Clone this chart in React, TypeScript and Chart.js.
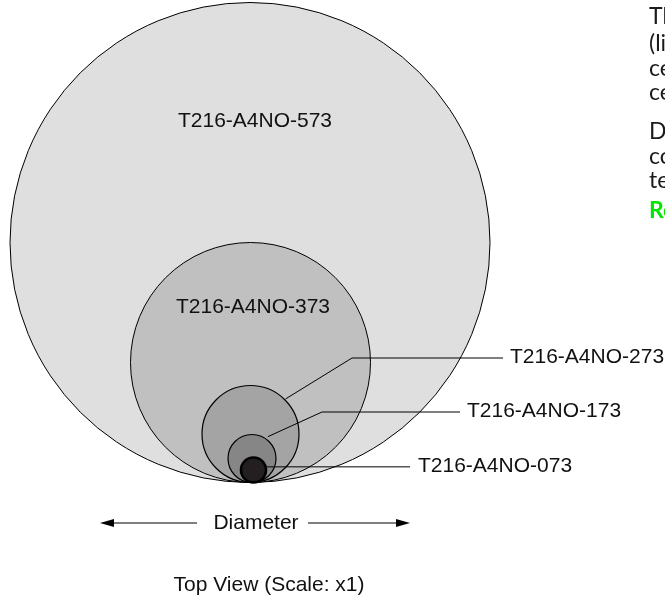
import React, { useEffect, useRef } from "react";
import { Chart, registerables } from "chart.js";

Chart.register(...registerables);

// ---- data ----
const models = ["T216-A4NO-573", "T216-A4NO-373", "T216-A4NO-273", "T216-A4NO-173", "T216-A4NO-073"];
const diameters = [480, 240, 97, 48, 25]; // drawing units (scale x1)
const fills = ["#dfdfdf", "#c0c0c0", "#a4a4a4", "#868686", "#231f20"];
const borderWidths = [1, 1, 1.2, 1.2, 2.6];

const paragraph1 = ["The T216-A4NO range", "(linear scale) keeps each", "cell outline true to size,", "centered on one contact point."];
const paragraph2 = ["Diameter values are", "compared directly in this", "technical top view."];
const linkText = "Request a datasheet";

// ---- layout (pixels in chart units) ----
const W = 665;
const H = 600;
const TANGENT_Y = 482.5;
const centerX = [250, 250.5, 250.5, 252, 253.5];
const insideLabels = [
  { i: 0, x: 255, y: 121 },
  { i: 1, x: 253, y: 307 },
];
const leaderLabels = [
  { i: 2, angle: 45, extra: 1, elbow: [352, 358], end: 503, textX: 510 },
  { i: 3, angle: 54, extra: 3, elbow: [322, 412], end: 460, textX: 467 },
  { i: 4, angle: 13, extra: 1.5, elbow: null, end: 410, textX: 418 },
];
const LABEL_FONT = '21px "Liberation Sans", Arial, Helvetica, sans-serif';
const SIDE_FONT = '23px "Lato", "Open Sans", sans-serif';

const annotationPlugin = {
  id: "annotations",
  afterDatasetsDraw(chart: any) {
    const { ctx } = chart;
    const xs = chart.scales.x;
    const ys = chart.scales.y;
    const px = (v: number) => xs.getPixelForValue(v);
    const py = (v: number) => ys.getPixelForValue(v);
    const unit = Math.abs(px(1) - px(0));
    ctx.save();
    ctx.fillStyle = "#111";
    ctx.font = LABEL_FONT;
    ctx.textBaseline = "middle";
    ctx.textAlign = "center";
    insideLabels.forEach((l) => ctx.fillText(models[l.i], px(l.x), py(l.y)));

    ctx.strokeStyle = "#000";
    ctx.lineWidth = 1;
    ctx.textAlign = "left";
    leaderLabels.forEach((l) => {
      const r = (diameters[l.i] / 2) * unit + l.extra;
      const cx = px(centerX[l.i]);
      const cy = py(TANGENT_Y - diameters[l.i] / 2);
      const a = (l.angle * Math.PI) / 180;
      const sx = cx + r * Math.cos(a);
      const sy = cy - r * Math.sin(a);
      ctx.beginPath();
      ctx.moveTo(sx, sy);
      let ly = sy;
      if (l.elbow) {
        ctx.lineTo(px(l.elbow[0]), py(l.elbow[1]));
        ly = py(l.elbow[1]);
      }
      ctx.lineTo(px(l.end), ly);
      ctx.stroke();
      ctx.fillText(models[l.i], px(l.textX), ly - 1);
    });

    // Diameter arrow
    const ay = py(523);
    const drawArrow = (x1: number, x2: number) => {
      const dir = Math.sign(x2 - x1);
      ctx.beginPath();
      ctx.moveTo(px(x1), ay);
      ctx.lineTo(px(x2) - dir * 10, ay);
      ctx.stroke();
      ctx.beginPath();
      ctx.moveTo(px(x2), ay);
      ctx.lineTo(px(x2) - dir * 14, ay - 4);
      ctx.lineTo(px(x2) - dir * 14, ay + 4);
      ctx.closePath();
      ctx.fillStyle = "#000";
      ctx.fill();
    };
    drawArrow(197, 100);
    drawArrow(308, 410);
    ctx.fillStyle = "#111";
    ctx.textAlign = "center";
    ctx.fillText("Diameter", px(256), ay);
    ctx.fillText("Top View (Scale: x1)", px(269), py(585));

    // side text
    ctx.textAlign = "left";
    ctx.textBaseline = "alphabetic";
    ctx.fillStyle = "#1a1a1a";
    ctx.font = SIDE_FONT;
    const base1 = [24, 51, 76, 100];
    paragraph1.forEach((t, k) => ctx.fillText(t, px(649), py(base1[k])));
    const base2 = [139, 164, 188];
    paragraph2.forEach((t, k) => ctx.fillText(t, px(649), py(base2[k])));
    ctx.font = 'bold ' + SIDE_FONT;
    ctx.fillStyle = "#00e600";
    ctx.fillText(linkText, px(649), py(218));
    ctx.restore();
  },
};

export default function App() {
  const ref = useRef<HTMLCanvasElement | null>(null);
  useEffect(() => {
    if (!ref.current) return;
    const radiusFromScale = (c: any) => {
      const s = c.chart.scales.x;
      const d = c.raw ? c.raw.d : 0;
      return Math.abs(s.getPixelForValue(d) - s.getPixelForValue(0)) / 2;
    };
    const chart = new Chart(ref.current, {
      type: "scatter",
      data: {
        datasets: [
          {
            data: models.map((m, i) => ({ x: centerX[i], y: TANGENT_Y - diameters[i] / 2, d: diameters[i] })) as any,
            pointRadius: radiusFromScale,
            pointHoverRadius: radiusFromScale,
            pointBackgroundColor: fills,
            pointHoverBackgroundColor: fills,
            pointBorderColor: "#000",
            pointBorderWidth: borderWidths,
            pointHoverBorderWidth: borderWidths,
            clip: false as any,
          } as any,
        ],
      },
      options: {
        animation: false,
        responsive: false,
        maintainAspectRatio: false,
        events: [],
        layout: { padding: 0 },
        plugins: { legend: { display: false }, tooltip: { enabled: false } },
        scales: {
          x: { type: "linear", min: 0, max: W, display: false },
          y: { type: "linear", min: 0, max: H, reverse: true, display: false },
        },
      },
      plugins: [annotationPlugin],
    });
    return () => chart.destroy();
  }, []);
  return (
    <div style={{ position: "fixed", left: 0, top: 0, width: W, height: H, overflow: "hidden", background: "#fff" }}>
      <canvas ref={ref} width={W} height={H} style={{ display: "block" }} />
    </div>
  );
}
